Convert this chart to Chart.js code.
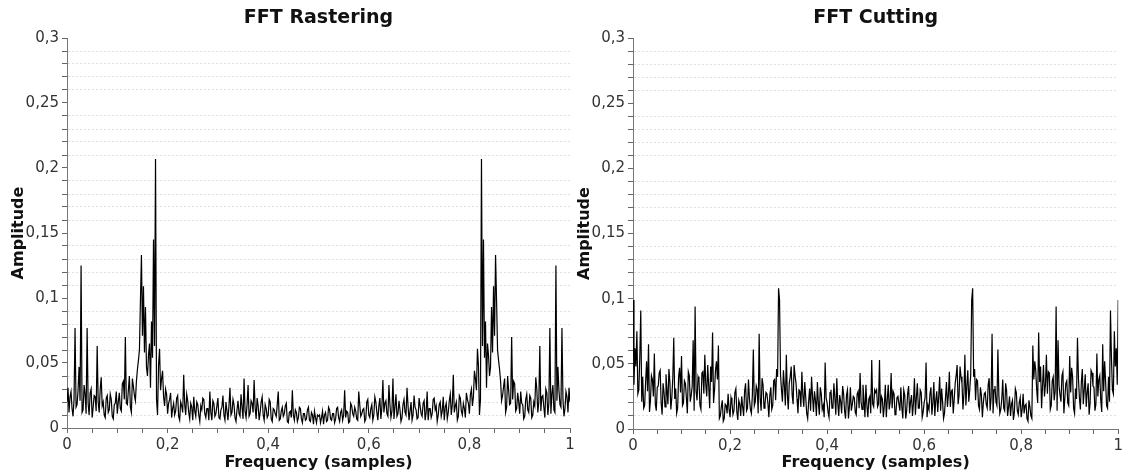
<!DOCTYPE html>
<html>
<head>
<meta charset="utf-8">
<title>FFT Rastering / FFT Cutting</title>
<script src="https://cdn.jsdelivr.net/npm/chart.js@4.4.1/dist/chart.umd.min.js"></script>
<style>
  html, body { margin: 0; padding: 0; background: #fff; }
  body { width: 1126px; height: 476px; position: relative; overflow: hidden; }
  canvas { position: absolute; top: 0; }
  #rasterChart { left: 0; }
  #cutChart { left: 566px; }
</style>
</head>
<body>
<canvas id="rasterChart" width="580" height="476"></canvas>
<canvas id="cutChart" width="560" height="476"></canvas>
<script>
Chart.defaults.font.family = "'DejaVu Sans', Verdana, sans-serif";
Chart.defaults.color = '#333';

// spectrum bins, 0 .. 1 in steps of 0.002
const freqStep = 0.002;

const xTickLabels = ['0', '0,2', '0,4', '0,6', '0,8', '1'];
const yTickLabels = ['0', '0,05', '0,1', '0,15', '0,2', '0,25', '0,3'];

// amplitude spectrum, rastering signal
const rasteringAmp = [
    .020, .031, .012, .024, .028, .015, .009, .022, .077, .016,
    .018, .029, .047, .021, .125, .012, .014, .033, .026, .011,
    .077, .019, .010, .027, .030, .008, .016, .025, .024, .013,
    .063, .020, .012, .030, .039, .017, .020, .010, .008, .023,
    .025, .012, .014, .026, .022, .009, .007, .018, .019, .028,
    .011, .020, .027, .015, .013, .034, .036, .022, .070, .019,
    .018, .029, .040, .016, .012, .038, .032, .025, .021, .036,
    .045, .052, .060, .098, .133, .071, .109, .058, .093, .047,
    .040, .056, .065, .031, .082, .054, .145, .063, .207, .022,
    .010, .048, .061, .029, .038, .044, .024, .017, .030, .026,
    .011, .019, .022, .027, .008, .015, .019, .010, .013, .023,
    .025, .009, .006, .020, .017, .012, .041, .018, .010, .026,
    .021, .012, .007, .019, .016, .006, .024, .013, .009, .020,
    .018, .010, .005, .017, .014, .023, .022, .011, .008, .015,
    .015, .006, .028, .012, .006, .021, .019, .009, .011, .017,
    .023, .008, .007, .014, .016, .025, .010, .006, .020, .013,
    .006, .017, .031, .010, .012, .022, .018, .008, .005, .014,
    .021, .011, .009, .026, .016, .007, .038, .013, .008, .018,
    .033, .009, .011, .021, .019, .012, .037, .016, .007, .023,
    .017, .006, .012, .020, .024, .010, .006, .018, .015, .008,
    .010, .022, .020, .007, .005, .015, .014, .011, .009, .018,
    .028, .006, .007, .013, .016, .009, .011, .017, .019, .005,
    .004, .012, .013, .008, .029, .010, .006, .014, .012, .005,
    .008, .016, .015, .007, .004, .011, .011, .006, .007, .014,
    .016, .006, .005, .012, .010, .003, .013, .008, .004, .010,
    .009,
    .010, .004, .008, .013, .003, .010, .012, .005, .006, .016,
    .014, .007, .006, .011, .011, .004, .007, .015, .016, .008,
    .005, .012, .014, .006, .010, .029, .008, .013, .012, .004,
    .005, .019, .017, .011, .009, .016, .013, .007, .006, .028,
    .018, .009, .011, .014, .015, .005, .007, .020, .022, .010,
    .008, .015, .018, .006, .010, .024, .020, .012, .006, .017,
    .023, .007, .016, .037, .012, .019, .021, .011, .009, .033,
    .018, .008, .013, .038, .007, .016, .026, .009, .011, .021,
    .014, .005, .008, .018, .022, .012, .010, .031, .017, .006,
    .013, .020, .006, .010, .025, .016, .014, .007, .008, .023,
    .017, .011, .009, .019, .021, .006, .012, .028, .006, .015,
    .015, .008, .011, .022, .023, .014, .017, .005, .010, .018,
    .020, .009, .013, .024, .006, .016, .019, .007, .012, .021,
    .026, .010, .018, .041, .012, .017, .020, .006, .009, .025,
    .023, .013, .010, .019, .015, .008, .027, .022, .019, .011,
    .026, .030, .017, .024, .044, .038, .029, .061, .048, .010,
    .022, .207, .063, .145, .054, .082, .031, .065, .056, .040,
    .047, .093, .058, .109, .071, .133, .098, .060, .052, .045,
    .036, .021, .025, .032, .038, .012, .016, .040, .029, .018,
    .019, .070, .022, .036, .034, .013, .015, .027, .020, .011,
    .028, .019, .018, .007, .009, .022, .026, .014, .012, .025,
    .023, .008, .010, .020, .017, .039, .030, .012, .020, .063,
    .013, .024, .025, .016, .008, .030, .027, .010, .019, .077,
    .011, .026, .033, .014, .012, .125, .021, .047, .029, .018,
    .016, .077, .022, .009, .015, .028, .024, .012, .031, .020
];

// amplitude spectrum, cutting signal
const cuttingAmp = [
    .099, .034, .062, .048, .075, .027, .030, .055, .091, .021,
    .040, .016, .018, .036, .052, .029, .065, .013, .022, .041,
    .038, .025, .058, .019, .014, .032, .033, .043, .045, .020,
    .011, .035, .028, .017, .042, .030, .019, .046, .036, .015,
    .024, .039, .070, .023, .031, .012, .016, .040, .047, .028,
    .056, .018, .020, .037, .035, .024, .012, .044, .041, .021,
    .026, .033, .068, .014, .094, .029, .022, .040, .037, .018,
    .015, .043, .044, .027, .057, .034, .025, .049, .033, .016,
    .048, .036, .074, .020, .030, .045, .052, .038, .064, .008,
    .010, .017, .022, .006, .008, .019, .018, .012, .027, .015,
    .009, .024, .020, .011, .014, .028, .031, .013, .007, .022,
    .019, .010, .025, .017, .010, .029, .035, .014, .016, .038,
    .023, .015, .012, .026, .061, .018, .021, .033, .030, .012,
    .073, .024, .014, .039, .034, .016, .019, .028, .027, .020,
    .009, .026, .032, .015, .018, .037, .038, .022, .046, .040,
    .108, .099, .042, .030, .021, .045, .033, .018, .057, .027,
    .015, .035, .040, .048, .026, .019, .049, .041, .035, .023,
    .012, .030, .029, .017, .044, .026, .017, .036, .024, .012,
    .008, .021, .031, .014, .040, .025, .013, .029, .022, .010,
    .036, .020, .011, .032, .027, .015, .018, .009, .051, .024,
    .020, .013, .009, .028, .030, .016, .016, .035, .024, .011,
    .039, .020, .010, .026, .021, .012, .033, .027, .014, .008,
    .026, .030, .008, .017, .032, .014, .019, .025, .024, .013,
    .011, .027, .029, .016, .043, .021, .015, .034, .022, .009,
    .034, .018, .009, .023, .025, .012, .053, .019, .017, .030,
    .028,
    .030, .017, .019, .053, .012, .025, .023, .009, .018, .034,
    .009, .022, .034, .015, .021, .043, .016, .029, .027, .011,
    .013, .024, .025, .019, .014, .032, .017, .008, .030, .026,
    .008, .014, .027, .033, .012, .021, .026, .010, .020, .039,
    .011, .024, .035, .016, .016, .030, .028, .009, .013, .020,
    .024, .051, .009, .018, .015, .027, .032, .011, .020, .036,
    .010, .022, .029, .013, .025, .040, .014, .031, .021, .008,
    .012, .024, .036, .017, .026, .044, .017, .029, .030, .012,
    .023, .035, .041, .049, .019, .026, .048, .040, .035, .015,
    .027, .057, .018, .033, .045, .021, .030, .042, .099, .108,
    .040, .046, .022, .038, .037, .018, .015, .032, .026, .009,
    .020, .027, .028, .019, .016, .034, .039, .014, .024, .073,
    .012, .030, .033, .021, .018, .061, .026, .012, .015, .023,
    .038, .016, .014, .035, .029, .010, .017, .025, .010, .019,
    .022, .007, .013, .031, .028, .014, .011, .020, .024, .009,
    .015, .027, .012, .018, .019, .008, .006, .022, .017, .010,
    .008, .064, .038, .052, .045, .030, .020, .074, .036, .048,
    .016, .033, .049, .025, .034, .057, .027, .044, .043, .015,
    .018, .037, .040, .022, .029, .094, .014, .068, .033, .026,
    .021, .041, .044, .012, .024, .035, .037, .020, .018, .056,
    .028, .047, .040, .016, .012, .031, .023, .070, .039, .024,
    .015, .036, .046, .019, .030, .042, .017, .028, .035, .011,
    .020, .045, .043, .033, .032, .014, .019, .058, .025, .038,
    .041, .022, .013, .065, .029, .052, .036, .018, .016, .040,
    .021, .091, .055, .030, .027, .075, .048, .062, .034, .099
];

// title centred over the plot area instead of the whole canvas
const panelTitle = {
    id: 'panelTitle',
    afterDraw(chart, args, opts) {
        const { ctx, chartArea } = chart;
        ctx.save();
        ctx.font = "bold 19px 'DejaVu Sans', Verdana, sans-serif";
        ctx.fillStyle = '#111';
        ctx.textAlign = 'center';
        ctx.textBaseline = 'alphabetic';
        ctx.fillText(opts.text, (chartArea.left + chartArea.right) / 2, 23);
        ctx.restore();
    }
};

function xLabel(value) {
    const k = Math.round(value * 100);
    return k % 20 === 0 ? xTickLabels[k / 20] : '';
}

function yLabel(value) {
    const k = Math.round(value * 100);
    return k % 5 === 0 ? yTickLabels[k / 5] : '';
}

function fftChart(canvasId, titleText, amp, padRight, xHeight) {
    const points = amp.map((a, i) => ({ x: i * freqStep, y: a }));
    return new Chart(document.getElementById(canvasId), {
        type: 'line',
        data: {
            datasets: [{
                data: points,
                borderColor: '#000',
                borderWidth: 1.2,
                pointRadius: 0,
                tension: 0,
                fill: false
            }]
        },
        plugins: [panelTitle],
        options: {
            responsive: false,
            animation: false,
            layout: { padding: { top: 38, right: padRight, bottom: 0, left: 0 } },
            plugins: {
                legend: { display: false },
                tooltip: { enabled: false },
                panelTitle: { text: titleText }
            },
            scales: {
                x: {
                    type: 'linear',
                    min: 0,
                    max: 1,
                    afterFit: scale => { scale.height = xHeight; },
                    ticks: {
                        stepSize: 0.05,
                        autoSkip: false,
                        maxRotation: 0,
                        padding: 3,
                        font: { size: 15 },
                        callback: xLabel
                    },
                    grid: { drawOnChartArea: false, tickLength: 5, tickColor: '#666' },
                    border: { color: '#777', width: 1 },
                    title: {
                        display: true,
                        text: 'Frequency (samples)',
                        color: '#111',
                        font: { size: 16, weight: 'bold' },
                        padding: { top: 0, bottom: 4 }
                    }
                },
                y: {
                    min: 0,
                    max: 0.3,
                    afterFit: scale => { scale.width = 67; },
                    ticks: {
                        stepSize: 0.01,
                        autoSkip: false,
                        padding: 3,
                        font: { size: 15 },
                        callback: yLabel
                    },
                    grid: {
                        color: c => (c.tick && Math.round(c.tick.value * 100) % 5 !== 0) ? '#e0e0e0' : 'rgba(0,0,0,0)',
                        tickLength: 5,
                        tickColor: '#666'
                    },
                    border: { color: '#777', width: 1, dash: [2, 2] },
                    title: {
                        display: true,
                        text: 'Amplitude',
                        color: '#111',
                        font: { size: 16, weight: 'bold' },
                        padding: { top: 9, bottom: 0 }
                    }
                }
            }
        }
    });
}

// FFT Rastering (left) and FFT Cutting (right)
fftChart('rasterChart', 'FFT Rastering', rasteringAmp, 10, 48);
fftChart('cutChart', 'FFT Cutting', cuttingAmp, 5, 47);
</script>
</body>
</html>
